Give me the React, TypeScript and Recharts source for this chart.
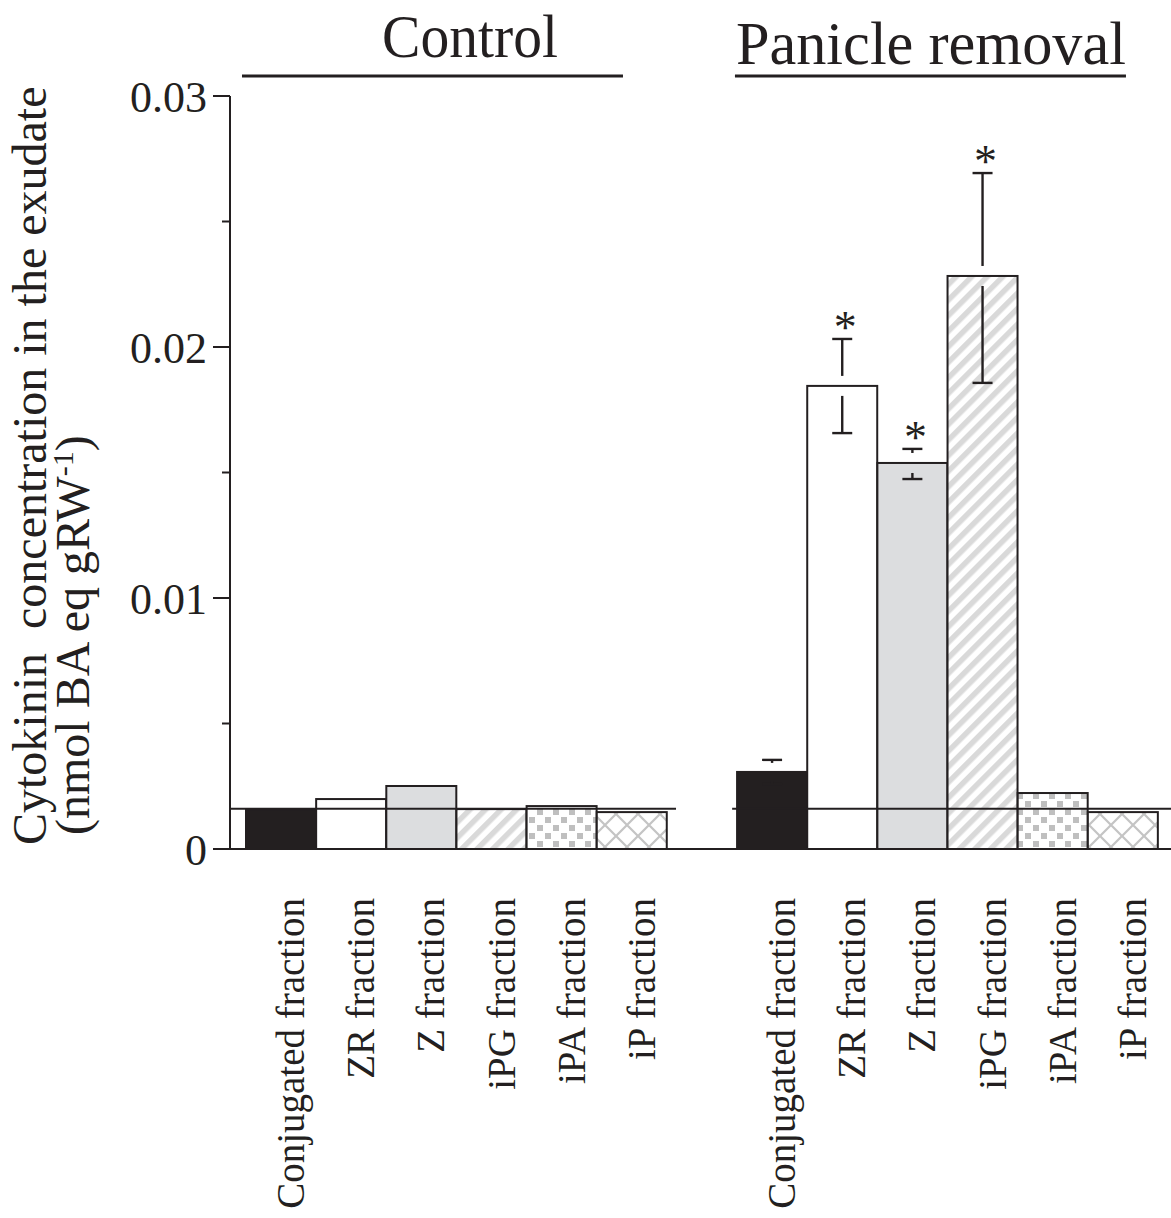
import React from 'react';
import { BarChart, Bar, XAxis, YAxis, ReferenceLine } from 'recharts';

// ---------- data ----------
const FRACTIONS = ['Conjugated fraction', 'ZR fraction', 'Z fraction', 'iPG fraction', 'iPA fraction', 'iP fraction'];
const CONTROL_VALUES = [0.00159, 0.00199, 0.00251, 0.00159, 0.00171, 0.00147];
const REMOVAL_VALUES = [0.00307, 0.01845, 0.01538, 0.02283, 0.00223, 0.00147];
const REMOVAL_ERR_HIGH = [0.00355, 0.02032, 0.01594, 0.02693, 0, 0];
const REMOVAL_ERR_LOW = [0.00259, 0.01657, 0.01474, 0.01857, 0, 0];
const REMOVAL_SIGNIFICANT = [false, true, true, true, false, false];
const Y_TICKS = [0, 0.005, 0.01, 0.015, 0.02, 0.025, 0.03];
const Y_TICK_LABELS = ['0', '', '0.01', '', '0.02', '', '0.03'];
const BASE_LEVEL = 0.0016;
const BASE_SEGMENTS = [[-0.228, 6.13], [6.93, 13.186]];
const HEADER_LEVEL = 0.0308;
const HEADER_TEXTS = ['Control', 'Panicle removal'];
const HEADER_SPANS = [[-0.057, 5.374], [6.97, 12.544]];
const X_DOMAIN = [-0.228, 13.186];

type Row = { key: string; pos: number; label: string; kind: number; value: number | null; hi: number | null; lo: number | null; sig: boolean };

const rows: Row[] = [
  ...FRACTIONS.map((f, i) => ({ key: `control-${i}`, pos: i + 0.5, label: f, kind: i, value: CONTROL_VALUES[i], hi: null, lo: null, sig: false })),
  { key: 'gap', pos: 6.5, label: '', kind: -1, value: null, hi: null, lo: null, sig: false },
  ...FRACTIONS.map((f, i) => ({
    key: `removal-${i}`,
    pos: i + 7.5,
    label: f,
    kind: i,
    value: REMOVAL_VALUES[i],
    hi: REMOVAL_ERR_HIGH[i] || null,
    lo: REMOVAL_ERR_LOW[i] || null,
    sig: REMOVAL_SIGNIFICANT[i],
  })),
];

// ---------- styles ----------
const INK = '#231f20';
const FONT = '"Liberation Serif", "Times New Roman", Times, serif';
const FILLS = [INK, '#ffffff', '#dcdddf', 'url(#pat-stripes)', 'url(#pat-squares)', 'url(#pat-cross)'];
const HEADER_STYLE = [
  { dx: 37.5, dy: -19, length: 176 },
  { dx: 0.5, dy: -12, length: 390 },
];

const Patterns = () => (
  <svg width={0} height={0} style={{ position: 'absolute' }}>
    <defs>
      <pattern id="pat-stripes" width={11} height={11} patternUnits="userSpaceOnUse" patternTransform="rotate(45)">
        <rect width={11} height={11} fill="#ffffff" />
        <rect width={5.5} height={11} fill="#d9d9d9" />
      </pattern>
      <pattern id="pat-squares" width={16} height={16} patternUnits="userSpaceOnUse">
        <rect width={16} height={16} fill="#ffffff" />
        <rect x={1} y={1} width={6} height={6} fill="#bfbfbf" />
        <rect x={9} y={9} width={6} height={6} fill="#bfbfbf" />
      </pattern>
      <pattern id="pat-cross" width={22} height={22} patternUnits="userSpaceOnUse">
        <rect width={22} height={22} fill="#ffffff" />
        <path d="M0,0 L22,22 M22,0 L0,22" stroke="#c4c4c4" strokeWidth={2.2} />
      </pattern>
    </defs>
  </svg>
);

const BarShape = (props: any) => {
  const { x, y, width, height, payload } = props;
  if (payload == null || payload.value == null || !(height > 0)) return null;
  const row = payload as Row;
  const base = y + height;
  const ppu = height / (row.value as number);
  const cx = x + width / 2;
  const gap = 10;
  const cap = 10;
  const sw = 2.4;
  const parts: React.ReactNode[] = [];
  if (row.hi != null) {
    const yh = base - row.hi * ppu;
    parts.push(<line key="hc" x1={cx - cap} x2={cx + cap} y1={yh} y2={yh} stroke={INK} strokeWidth={sw} />);
    const stemEnd = Math.max(yh + 3, y - gap);
    parts.push(<line key="hs" x1={cx} x2={cx} y1={yh} y2={stemEnd} stroke={INK} strokeWidth={sw} />);
    if (row.sig) {
      parts.push(
        <text key="st" x={cx + 3} y={yh + 4} textAnchor="middle" fontFamily={FONT} fontSize={46} fill={INK}>
          *
        </text>
      );
    }
  }
  if (row.lo != null) {
    const yl = base - row.lo * ppu;
    parts.push(<line key="lc" x1={cx - cap} x2={cx + cap} y1={yl} y2={yl} stroke={INK} strokeWidth={sw} />);
    const stemStart = Math.min(yl - 3, y + gap);
    parts.push(<line key="ls" x1={cx} x2={cx} y1={stemStart} y2={yl} stroke={INK} strokeWidth={sw} />);
  }
  return (
    <g>
      <rect x={x} y={y} width={width} height={height} fill={FILLS[row.kind]} stroke={INK} strokeWidth={2} />
      {parts}
    </g>
  );
};

const XTick = (props: any) => {
  const { x, y, index } = props;
  const row = rows[index];
  if (!row || !row.label) return null;
  return (
    <text
      transform={`translate(${x + 23}, ${y + 49}) rotate(-90)`}
      textAnchor="end"
      fontFamily={FONT}
      fontSize={39}
      fill={INK}
    >
      {row.label}
    </text>
  );
};

const YTick = (props: any) => {
  const { x, y, index } = props;
  const label = Y_TICK_LABELS[index];
  const major = label !== '' && label != null;
  return (
    <g>
      <line x1={x - (major ? 17 : 8)} x2={x} y1={y} y2={y} stroke={INK} strokeWidth={2} />
      {major && (
        <text x={x - 23} y={y + 16} textAnchor="end" fontFamily={FONT} fontSize={44} fill={INK}>
          {label}
        </text>
      )}
    </g>
  );
};

const YTitle = (props: any) => {
  const vb = props.viewBox || {};
  const left = vb.x ?? 0;
  const bottom = (vb.y ?? 96) + (vb.height ?? 753);
  return (
    <g fontFamily={FONT} fontSize={48} fill={INK}>
      <text transform={`translate(${left + 46}, ${bottom - 4}) rotate(-90)`} textAnchor="start">
        {'Cytokinin\u00a0 concentration in the exudate'}
      </text>
      <text transform={`translate(${left + 89}, ${bottom - 14}) rotate(-90)`} textAnchor="start">
        {'(nmol BA eq gRW'}
        <tspan dy={-16} fontSize={30}>-1</tspan>
        <tspan dy={16} fontSize={48}>)</tspan>
      </text>
    </g>
  );
};

const HeaderLabel = (props: any) => {
  const { viewBox, idx } = props;
  if (!viewBox) return null;
  const st = HEADER_STYLE[idx];
  const cx = viewBox.x + viewBox.width / 2 + st.dx;
  return (
    <text
      x={cx}
      y={viewBox.y + st.dy}
      textAnchor="middle"
      fontFamily={FONT}
      fontSize={62}
      fill={INK}
      textLength={st.length}
      lengthAdjust="spacingAndGlyphs"
    >
      {HEADER_TEXTS[idx]}
    </text>
  );
};

export default function App() {
  return (
    <div style={{ position: 'absolute', left: 0, top: 0, width: 1171, height: 1218, background: '#fff' }}>
      <Patterns />
      <BarChart
        width={1171}
        height={1218}
        data={rows}
        margin={{ top: 96, right: 0, bottom: 0, left: 0 }}
        barCategoryGap={0}
        barGap={0}
      >
        <XAxis
          xAxisId="cat"
          dataKey="key"
          type="category"
          padding={{ left: 16, right: 13 }}
          height={369}
          interval={0}
          tickSize={0}
          tickMargin={0}
          tickLine={false}
          axisLine={{ stroke: INK, strokeWidth: 2 }}
          tick={<XTick />}
        />
        <XAxis xAxisId="pos" dataKey="pos" type="number" domain={X_DOMAIN} allowDataOverflow hide />
        <YAxis
          width={230}
          type="number"
          domain={[0, 0.03]}
          ticks={Y_TICKS}
          interval={0}
          allowDataOverflow
          tickSize={0}
          tickMargin={0}
          tickLine={false}
          axisLine={{ stroke: INK, strokeWidth: 2 }}
          tick={<YTick />}
          label={<YTitle />}
        />
        <Bar xAxisId="cat" dataKey="value" shape={BarShape} isAnimationActive={false} />
        {BASE_SEGMENTS.map((s, i) => (
          <ReferenceLine
            key={`base-${i}`}
            xAxisId="pos"
            segment={[{ x: s[0], y: BASE_LEVEL }, { x: s[1], y: BASE_LEVEL }]}
            stroke={INK}
            strokeWidth={2}
            ifOverflow="visible"
          />
        ))}
        {HEADER_SPANS.map((s, i) => (
          <ReferenceLine
            key={`head-${i}`}
            xAxisId="pos"
            segment={[{ x: s[0], y: HEADER_LEVEL }, { x: s[1], y: HEADER_LEVEL }]}
            stroke={INK}
            strokeWidth={3}
            ifOverflow="visible"
            label={<HeaderLabel idx={i} />}
          />
        ))}
      </BarChart>
    </div>
  );
}
